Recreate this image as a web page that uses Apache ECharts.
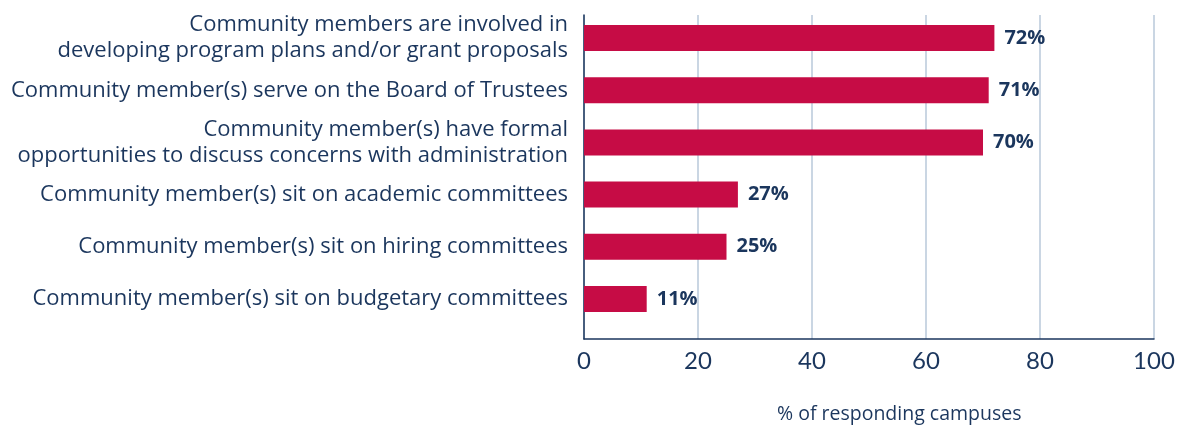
<!DOCTYPE html>
<html>
<head>
<meta charset="utf-8">
<script src="https://cdn.jsdelivr.net/npm/echarts@6/dist/echarts.min.js"></script>
<style>
  html, body { margin: 0; padding: 0; background: #fff; }
  #chart { width: 1186px; height: 428px; }
</style>
</head>
<body>
<div id="chart"></div>
<script>
// 类目（自上而下）
const categories = [
  "Community members are involved in\ndeveloping program plans and/or grant proposals",
  "Community member(s) serve on the Board of Trustees",
  "Community member(s) have formal\nopportunities to discuss concerns with administration",
  "Community member(s) sit on academic committees",
  "Community member(s) sit on hiring committees",
  "Community member(s) sit on budgetary committees"
];
const values = [72, 71, 70, 27, 25, 11];
const xTicks = [0, 20, 40, 60, 80, 100];

const navy = "#1B365D";
const barColor = "#C60C45";
const fontFamily = "'Open Sans', sans-serif";

const chart = echarts.init(document.getElementById("chart"));

const option = {
  animation: false,
  title: {
    text: "% of responding campuses",
    left: 772,
    top: 399,
    textStyle: { fontSize: 19.5, fontWeight: "normal", color: navy, fontFamily }
  },
  grid: [
    // 柱形区域
    { left: 584, right: 32, top: 12, bottom: 103 },
    // 网格线和坐标轴
    { left: 584, right: 32, top: 15, bottom: 89 }
  ],
  xAxis: [
    {
      gridIndex: 0,
      type: "value",
      min: xTicks[0],
      max: xTicks[xTicks.length - 1],
      interval: 20,
      show: false
    },
    {
      gridIndex: 1,
      type: "value",
      min: xTicks[0],
      max: xTicks[xTicks.length - 1],
      interval: 20,
      axisLine: { show: true, lineStyle: { color: navy, width: 1.5 } },
      axisTick: { show: false },
      axisLabel: {
        color: navy,
        fontSize: 24,
        fontFamily: "Lato, sans-serif",
        margin: 10
      },
      splitLine: { show: true, lineStyle: { color: "#B9C8DA", width: 1.5 } }
    }
  ],
  yAxis: [
    {
      gridIndex: 0,
      type: "category",
      inverse: true,
      data: categories,
      axisLine: { show: false },
      axisTick: { show: false },
      axisLabel: {
        color: navy,
        fontSize: 22,
        lineHeight: 26,
        fontFamily,
        margin: 16,
        align: "right"
      }
    },
    {
      gridIndex: 1,
      type: "value",
      min: 0,
      max: 1,
      axisLine: { show: true, lineStyle: { color: navy, width: 1.5 } },
      axisTick: { show: false },
      axisLabel: { show: false },
      splitLine: { show: false }
    }
  ],
  series: [
    {
      type: "bar",
      xAxisIndex: 0,
      yAxisIndex: 0,
      data: values,
      barWidth: 26,
      itemStyle: { color: barColor },
      label: {
        show: true,
        position: "right",
        distance: 10,
        formatter: "{c}%",
        color: navy,
        fontSize: 20,
        fontWeight: "bold",
        fontFamily
      },
      z: 3
    }
  ]
};

chart.setOption(option);
window.addEventListener("resize", () => chart.resize());
</script>
</body>
</html>
